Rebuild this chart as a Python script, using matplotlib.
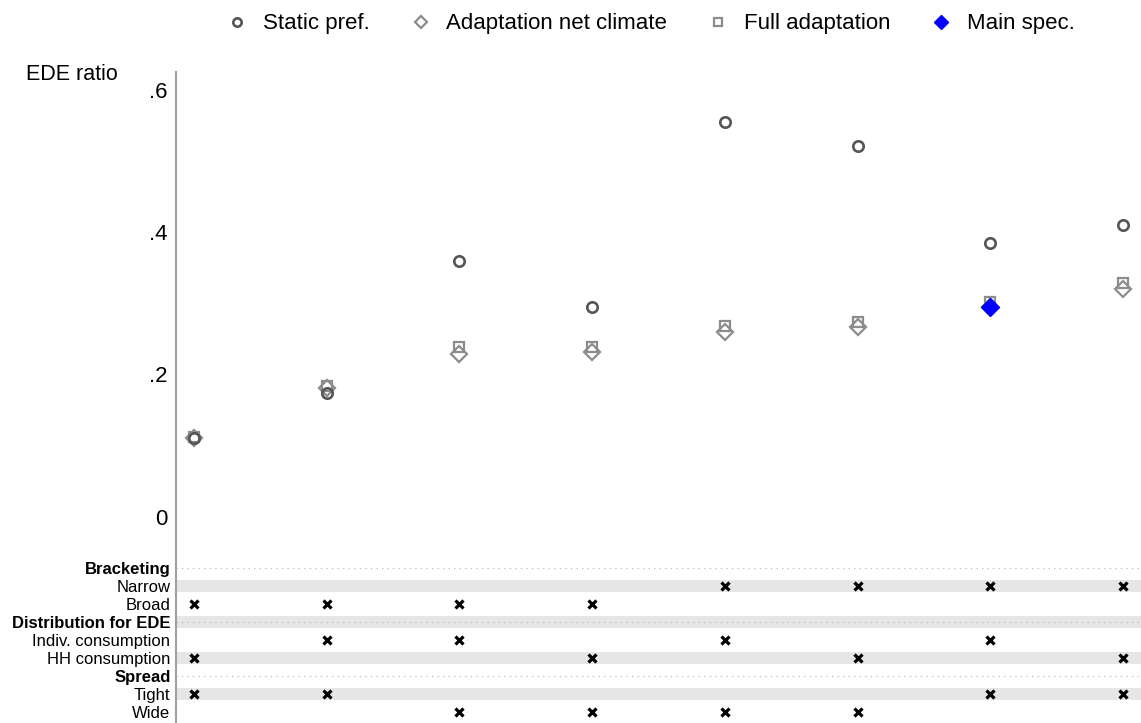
import matplotlib.pyplot as plt

# specification curve values (EDE ratio)
specs = [1, 2, 3, 4, 5, 6, 7, 8]
static_pref = [0.111, 0.174, 0.359, 0.295, 0.555, 0.521, 0.385, 0.410]
adapt_net = [0.111, 0.181, 0.228, 0.232, 0.260, 0.267, 0.295, 0.320]
full_adapt = [0.112, 0.184, 0.239, 0.239, 0.268, 0.274, 0.302, 0.329]
main_spec = 7

yticks = [0, 0.2, 0.4, 0.6]
ytick_labels = ["0", ".2", ".4", ".6"]

# table rows
rows = ["Bracketing", "Narrow", "Broad",
        "Distribution for EDE", "Indiv. consumption", "HH consumption",
        "Spread", "Tight", "Wide"]
headers = ["Bracketing", "Distribution for EDE", "Spread"]
choices = {
    "Narrow": [5, 6, 7, 8],
    "Broad": [1, 2, 3, 4],
    "Indiv. consumption": [2, 3, 5, 7],
    "HH consumption": [1, 4, 6, 8],
    "Tight": [1, 2, 7, 8],
    "Wide": [3, 4, 5, 6],
}

plt.rcParams['font.family'] = ['Liberation Sans', 'DejaVu Sans']

W, H = 1141, 723
fig = plt.figure(figsize=(W / 100, H / 100), dpi=100)

left = 176 / W
ax = fig.add_axes([left, 1 - 558 / H, 1 - left, (558 - 72) / H])
tb = fig.add_axes([left, 0, 1 - left, (723 - 558) / H], sharex=ax)

spine_col = "#a0a0a0"

ax.plot(specs, static_pref, 'o', ms=7.5, mfc='none', mec='#555555', mew=1.9,
        linestyle='none', label="Static pref.", zorder=3)
ax.plot(specs, adapt_net, 'D', ms=8, mfc='none', mec='#8c8c8c', mew=1.6,
        linestyle='none', label="Adaptation net climate", zorder=2)
ax.plot(specs, full_adapt, 's', ms=7.5, mfc='none', mec='#8c8c8c', mew=1.6,
        linestyle='none', label="Full adaptation", zorder=2)
i = specs.index(main_spec)
ax.plot([main_spec], [adapt_net[i]], 'D', ms=9.5, color='#0000ff',
        linestyle='none', label="Main spec.", zorder=4)

ax.set_ylim(-0.058, 0.625)
ax.set_xlim(0.865, 8.135)
ax.set_yticks(yticks)
ax.set_yticklabels(ytick_labels)
ax.tick_params(axis='y', length=0, labelsize=16, pad=6)
ax.tick_params(axis='x', bottom=False, labelbottom=False)
for s in ['top', 'right', 'bottom']:
    ax.spines[s].set_visible(False)
ax.spines['left'].set_color(spine_col)
ax.spines['left'].set_linewidth(1.5)
fig.text(118 / W, 1 - 75 / H, "EDE ratio", ha='right', va='center',
         fontsize=15.5)

fig.legend(loc='center', bbox_to_anchor=(0.571, 1 - 24 / H), ncol=4,
           frameon=False, fontsize=16, handletextpad=0.75, columnspacing=1.9,
           handlelength=0.8, markerscale=0.8)

# lower table
for r, name in enumerate(rows):
    if r % 2 == 1:
        tb.axhspan(r - 0.32, r + 0.32, color='#e6e6e6', lw=0, zorder=0)
    if name in headers:
        tb.axhline(r, color='#b0b0b0', lw=0.8, ls=(0, (1, 4)), zorder=1)
    if name in choices:
        tb.plot(choices[name], [r] * len(choices[name]), 'x', color='black',
                ms=5.5, mew=2.3, linestyle='none', zorder=3)

tb.set_ylim(8.6, -0.55)
tb.set_yticks(range(len(rows)))
tb.set_yticklabels(rows)
for lab in tb.get_yticklabels():
    if lab.get_text() in headers:
        lab.set_fontweight('bold')
tb.tick_params(axis='y', length=0, labelsize=12, pad=4)
tb.tick_params(axis='x', bottom=False, labelbottom=False)
for s in ['top', 'right', 'bottom']:
    tb.spines[s].set_visible(False)
tb.spines['left'].set_color(spine_col)
tb.spines['left'].set_linewidth(1.5)

fig.savefig("out.png", dpi=100)
